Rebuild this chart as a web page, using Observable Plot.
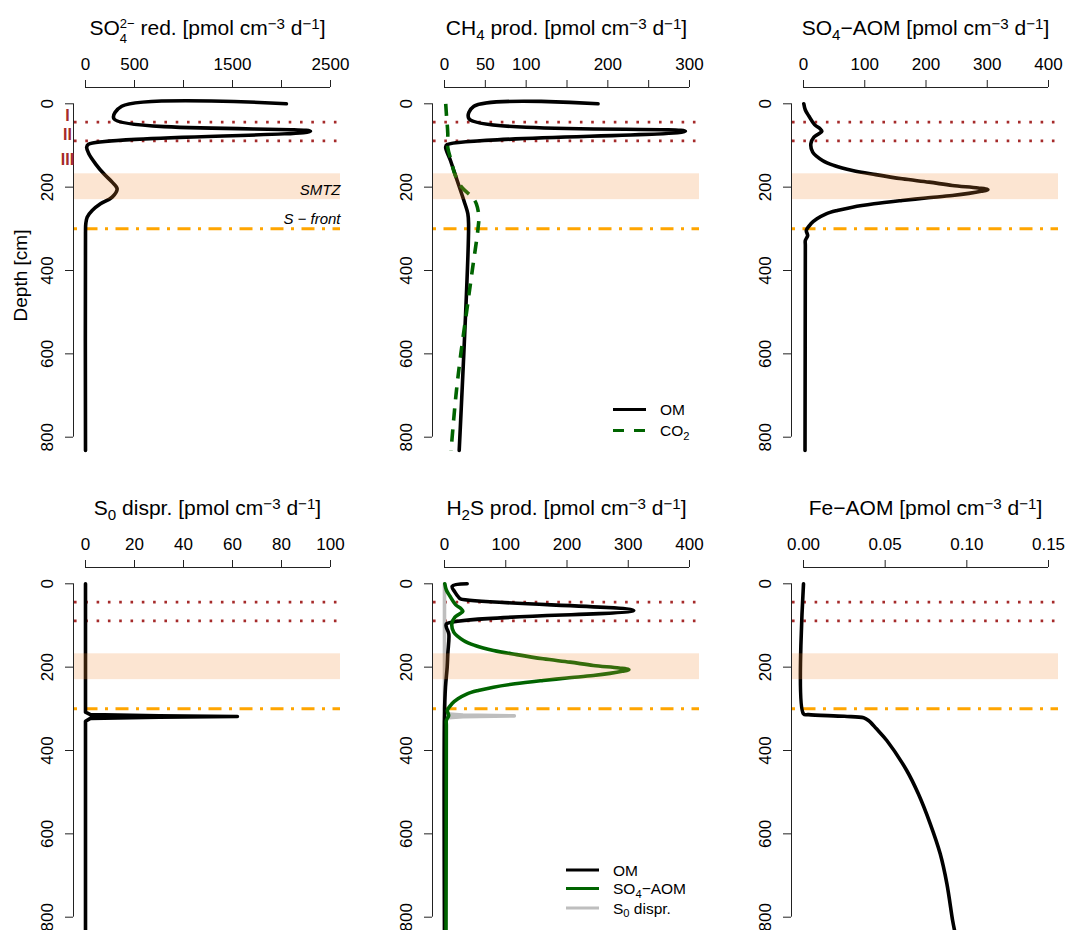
<!DOCTYPE html>
<html><head><meta charset="utf-8">
<script src="https://cdn.jsdelivr.net/npm/d3@7"></script>
<script src="https://cdn.jsdelivr.net/npm/@observablehq/plot@0.6"></script>
<style>
body{margin:0;background:#fff;font-family:"Liberation Sans",Arial,sans-serif;}
#root{position:relative;width:1069px;height:930px;overflow:hidden;background:#fff;}
.panel{position:absolute;}
.panel svg{overflow:visible;}
</style></head><body><div id="root"></div>
<script>
// ---------- shared depth annotations ----------
const depthTicks = [0, 200, 400, 600, 800];
const smtzDepth = [168, 230];
const zoneDepth = [44, 89];
const sFrontDepth = [300];
const zoneNames = ["I", "II", "III"];
const zoneBounds = [0, 44, 89, 168];

// ---------- panel 1: SO4 reduction ----------
const so4redTicks = [0, 500, 1000, 1500, 2000, 2500];
const so4redTickLabels = ["0", "500", "", "1500", "", "2500"];
const so4redDepth = [0, 6, 36, 66, 97, 104, 120, 144, 168, 188, 204, 224, 240, 256, 272, 288, 310, 832];
const so4redRate  = [2050, 370, 290, 2296, 30, 12, 34, 102, 187, 272, 323, 272, 153, 68, 17, 3, 0, 0];

// ---------- panel 2: CH4 production ----------
const ch4Ticks = [0, 50, 100, 150, 200, 250, 300];
const ch4TickLabels = ["0", "50", "100", "", "200", "", "300"];
const ch4OmDepth = [0, 6, 36, 66, 98, 104, 136, 184, 232, 264, 290, 832];
const ch4OmRate  = [188, 36, 30, 295, 3.3, 1.4, 7.3, 15.5, 23.7, 28.6, 29.5, 18];
const ch4Co2Depth = [0, 30, 70, 105, 135, 168, 200, 224, 240, 270, 300, 400, 500, 600, 700, 832];
const ch4Co2Rate  = [1.5, 2.5, 4, 4, 8, 12.5, 21, 34, 39, 42, 41, 34, 27, 20, 14, 8];

// ---------- panel 3: SO4-AOM ----------
const aomTicks = [0, 100, 200, 300, 400];
const aomTickLabels = ["0", "100", "200", "300", "400"];
const aomDepth = [0, 15, 30, 50, 60, 66, 72, 80, 96, 116, 136, 148, 160, 170, 180, 188, 196, 202, 206, 210, 215, 220, 226, 232, 240, 248, 256, 264, 276, 288, 304, 316, 328, 340, 832];
const aomRate  = [0.5, 3, 9, 18, 27, 30, 25, 17, 12, 15, 31, 50, 80, 118, 161, 205, 243, 285, 301, 290, 270, 243, 200, 161, 115, 80, 55, 37, 22, 12, 4.6, 6.8, 3, 3, 2.5];

// ---------- panel 4: S0 disproportionation ----------
const s0Ticks = [0, 20, 40, 60, 80, 100];
const s0TickLabels = ["0", "20", "40", "60", "80", "100"];
const s0Depth = [0, 308, 314, 317, 318.5, 320, 323, 330, 832];
const s0Rate  = [0, 0, 2, 30, 62, 30, 2, 0, 0];

// ---------- panel 5: H2S production ----------
const h2sTicks = [0, 100, 200, 300, 400];
const h2sTickLabels = ["0", "100", "200", "300", "400"];
const h2sOmDepth = [0, 6, 20, 32, 36, 64, 96, 104, 120, 168, 200, 248, 312, 832];
const h2sOmRate  = [37, 12.5, 17, 23, 26, 309, 3.3, 3, 7, 5.4, 4.4, 1.6, 0, 0];
const h2sS0Depth = [0, 300, 312, 315, 317, 319, 322, 330, 832];
const h2sS0Rate  = [0, 0, 1, 30, 114, 30, 1, 0, 0];

// ---------- panel 6: Fe-AOM ----------
const feTicks = [0, 0.05, 0.10, 0.15];
const feTickLabels = ["0.00", "0.05", "0.10", "0.15"];
const feDepth = [0, 312, 314, 318, 321.6, 328, 348, 376, 448, 504, 576, 648, 720, 808, 832];
const feRate  = [0, 0, 0.003, 0.025, 0.0368, 0.0398, 0.0447, 0.051, 0.0632, 0.0703, 0.0776, 0.0837, 0.0878, 0.0913, 0.0925];

// ---------- layout ----------
const P = {x0: 85, x1: 330, y0: 103.3, y1: 436.7};
const BROWN = "#A52A2A", ORANGE = "#FFA500", GREEN = "#006400", GREY = "#BEBEBE";
const FONT = "'Liberation Sans', Arial, sans-serif";
const root = document.getElementById("root");

function toRows(depth, value) { return depth.map((d, i) => ({d, v: value[i]})); }

function rich(textSel, parts, size) {
  let cur = 0, lastW = 0, pendingDx = 0;
  for (const [t, kind] of parts) {
    let off = 0, fs = size;
    if (kind === "sup") { off = -0.27 * size; fs = 0.72 * size; }
    else if (kind === "sub") { off = 0.24 * size; fs = 0.72 * size; }
    else if (kind === "ssup") { off = -0.34 * size; fs = 0.62 * size; }
    else if (kind === "ssub") { off = 0.37 * size; fs = 0.62 * size; }
    const ts = textSel.append("tspan").attr("font-size", fs).attr("dy", off - cur).text(t);
    let dx = pendingDx;
    if (kind === "ssub") dx -= lastW;
    if (dx) ts.attr("dx", dx);
    pendingDx = 0;
    cur = off;
    const w = ts.node().getComputedTextLength();
    if (kind === "ssub" && lastW > w) pendingDx = lastW - w;
    lastW = w;
  }
}

function build(cfg) {
  const {xmax, ticks, labels, series, left, top, w, h, title, extra, legend} = cfg;
  const kx = (P.x1 - P.x0) / xmax;
  const ky = (P.y1 - P.y0) / 800;
  const xAt = px => (px - P.x0) / kx;
  const yAt = px => (px - P.y0) / ky;
  const xL = xAt(74), xR = xAt(340), xAx = xAt(73);
  const yAx = yAt(87);
  const marks = [
    Plot.ruleY(zoneDepth, {y: d => d, x1: xL, x2: xR, stroke: BROWN, strokeWidth: 2.6, strokeDasharray: "2.6 8.7"}),
    Plot.ruleY(sFrontDepth, {y: d => d, x1: xL, x2: xR, stroke: ORANGE, strokeWidth: 3, strokeDasharray: "3 7.5 13 7.5"}),
    ...series.map(s => Plot.line(toRows(s.depth, s.value), {
      x: "v", y: "d", stroke: s.color, strokeWidth: 3.6, strokeDasharray: s.dash,
      curve: s.curve || "catmull-rom", strokeLinejoin: "round", strokeLinecap: s.dash ? "butt" : "round"
    })),
    Plot.rect([smtzDepth], {x1: xL, x2: xR, y1: d => d[0], y2: d => d[1], fill: "#F28A30", fillOpacity: 0.22}),
    // top x axis
    Plot.ruleY([yAx], {x1: ticks[0], x2: ticks[ticks.length - 1], stroke: "#222", strokeWidth: 1}),
    Plot.ruleX(ticks, {x: d => d, y1: yAx, y2: yAx - 7 / ky, stroke: "#222", strokeWidth: 1}),
    Plot.text(ticks, {x: d => d, y: yAx, text: (d, i) => labels[i], dy: -23, fontSize: 17, lineAnchor: "middle", fill: "#000"}),
    // left y axis
    Plot.ruleX([xAx], {y1: depthTicks[0], y2: depthTicks[depthTicks.length - 1], stroke: "#222", strokeWidth: 1}),
    Plot.ruleY(depthTicks, {y: d => d, x1: xAx, x2: xAx - 8 / kx, stroke: "#222", strokeWidth: 1}),
    Plot.text(depthTicks, {x: xAx, y: d => d, text: d => String(d), rotate: -90, dx: -26, fontSize: 17, lineAnchor: "middle", fill: "#000"}),
    ...(extra ? extra({xAt, yAt, xL, xR, kx, ky}) : [])
  ];
  const svg = Plot.plot({
    width: w, height: h,
    x: {domain: [0, xmax], range: [P.x0, P.x1], axis: null},
    y: {domain: [0, 800], range: [P.y0, P.y1], axis: null},
    style: {fontFamily: FONT, color: "#000", background: "transparent"},
    marks
  });
  const div = document.createElement("div");
  div.className = "panel";
  div.style.left = left + "px"; div.style.top = top + "px";
  div.appendChild(svg);
  root.appendChild(div);
  const s = d3.select(svg);
  const tt = s.append("text").attr("x", (P.x0 + P.x1) / 2).attr("y", 35)
    .attr("text-anchor", "middle").attr("font-size", 21).attr("fill", "#000")
    .attr("font-family", FONT);
  rich(tt, title, 21);
  if (legend) {
    const g = s.append("g").attr("font-family", FONT).attr("text-anchor", "start");
    legend.items.forEach((it, i) => {
      const y = legend.ys[i];
      g.append("line").attr("x1", legend.x1).attr("x2", legend.x2).attr("y1", y).attr("y2", y)
        .attr("stroke", it.color).attr("stroke-width", 3).attr("stroke-dasharray", it.dash || null);
      const t = g.append("text").attr("x", legend.tx).attr("y", y + 5.5)
        .attr("text-anchor", "start").attr("font-size", 15.5).attr("fill", "#000");
      rich(t, it.label, 15.5);
    });
  }
}

const unit = [[" [pmol cm"], ["−3", "sup"], [" d"], ["−1", "sup"], ["]"]];

build({
  left: 0, top: 0, w: 359, h: 480, xmax: 2500, ticks: so4redTicks, labels: so4redTickLabels,
  title: [["SO"], ["2−", "ssup"], ["4", "ssub"], [" red."], ...unit],
  series: [{depth: so4redDepth, value: so4redRate, color: "#000"}],
  extra: ({xAt, yAt, xR}) => [
    Plot.text(zoneNames, {x: xAt(67), y: (d, i) => (zoneBounds[i] + zoneBounds[i + 1]) / 2, dy: 3, text: d => d,
      fill: BROWN, fontWeight: "bold", fontSize: 16, lineAnchor: "middle"}),
    Plot.text(["SMTZ"], {x: xR, y: smtzDepth[1], dy: -5, text: d => d, textAnchor: "end", lineAnchor: "bottom", fontStyle: "italic", fontSize: 15, fill: "#000"}),
    Plot.text(["S − front"], {x: xR, y: sFrontDepth[0], dy: -4.5, text: d => d, textAnchor: "end", lineAnchor: "bottom", fontStyle: "italic", fontSize: 15, fill: "#000"}),
    Plot.text(["Depth [cm]"], {x: xAt(20), y: yAt(275), text: d => d, rotate: -90, fontSize: 19, lineAnchor: "middle", fill: "#000"})
  ]
});

build({
  left: 359, top: 0, w: 359, h: 480, xmax: 300, ticks: ch4Ticks, labels: ch4TickLabels,
  title: [["CH"], ["4", "sub"], [" prod."], ...unit],
  series: [
    {depth: ch4OmDepth, value: ch4OmRate, color: "#000"},
    {depth: ch4Co2Depth, value: ch4Co2Rate, color: GREEN, dash: "12 9"}
  ],
  legend: {x1: 254, x2: 287, tx: 301, ys: [409.5, 430.5], items: [
    {color: "#000", label: [["OM"]]},
    {color: GREEN, dash: "11 10", label: [["CO"], ["2", "sub"]]}
  ]}
});

build({
  left: 718, top: 0, w: 351, h: 480, xmax: 400, ticks: aomTicks, labels: aomTickLabels,
  title: [["SO"], ["4", "sub"], ["−AOM"], ...unit],
  series: [{depth: aomDepth, value: aomRate, color: "#000"}]
});

build({
  left: 0, top: 480, w: 359, h: 450, xmax: 100, ticks: s0Ticks, labels: s0TickLabels,
  title: [["S"], ["0", "sub"], [" dispr."], ...unit],
  series: [{depth: s0Depth, value: s0Rate, color: "#000", curve: "linear"}]
});

build({
  left: 359, top: 480, w: 359, h: 450, xmax: 400, ticks: h2sTicks, labels: h2sTickLabels,
  title: [["H"], ["2", "sub"], ["S prod."], ...unit],
  series: [
    {depth: h2sS0Depth, value: h2sS0Rate, color: GREY, curve: "linear"},
    {depth: h2sOmDepth, value: h2sOmRate, color: "#000"},
    {depth: aomDepth, value: aomRate, color: GREEN}
  ],
  legend: {x1: 207, x2: 240, tx: 254, ys: [390, 408.5, 428], items: [
    {color: "#000", label: [["OM"]]},
    {color: GREEN, label: [["SO"], ["4", "sub"], ["−AOM"]]},
    {color: GREY, label: [["S"], ["0", "sub"], [" dispr."]]}
  ]}
});

build({
  left: 718, top: 480, w: 351, h: 450, xmax: 0.15, ticks: feTicks, labels: feTickLabels,
  title: [["Fe−AOM"], ...unit],
  series: [{depth: feDepth, value: feRate, color: "#000"}]
});
</script>
</body></html>
